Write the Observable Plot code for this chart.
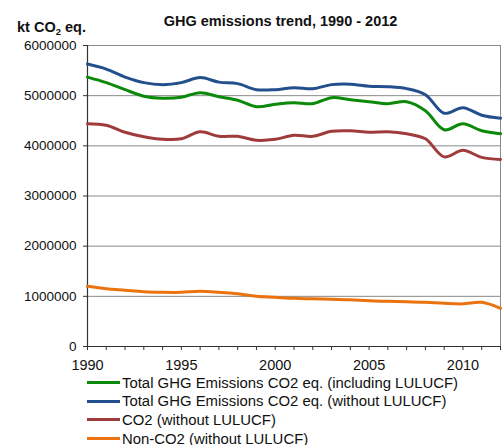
<!DOCTYPE html>
<html>
<head>
<meta charset="utf-8">
<script src="https://cdn.jsdelivr.net/npm/d3@7"></script>
<script src="https://cdn.jsdelivr.net/npm/@observablehq/plot@0.6"></script>
<style>
  html, body { margin: 0; padding: 0; background: #fff; }
  body { position: relative; width: 502px; height: 445px; overflow: hidden; font-family: "Liberation Sans", Arial, sans-serif; color: #111; }
  #head { position: relative; height: 30px; }
  #title { position: absolute; left: 0; width: 561px; top: 14px; text-align: center; font-weight: bold; font-size: 14.5px; line-height: 1; }
  #unit { position: absolute; left: 17px; top: 20px; font-weight: bold; font-size: 14.5px; line-height: 1; z-index: 2; }
  #unit sub { font-size: 9.5px; vertical-align: -3px; line-height: 0; }
  #legend { position: absolute; left: 0; top: 373.5px; }
  .row { display: flex; align-items: center; height: 18.6px; padding-left: 87px; font-size: 14.9px; line-height: 16px; }
  .sw { width: 33px; height: 3px; margin-right: 2px; }
  svg { display: block; }
</style>
</head>
<body>
<div id="head">
  <div id="title">GHG emissions trend, 1990 - 2012</div>
  <div id="unit">kt CO<sub>2</sub> eq.</div>
</div>
<div id="chart"></div>
<div id="legend"></div>
<script>
const years = [1990,1991,1992,1993,1994,1995,1996,1997,1998,1999,2000,2001,2002,2003,2004,2005,2006,2007,2008,2009,2010,2011,2012];
const totalInclLULUCF = [5370000,5260000,5120000,4990000,4950000,4970000,5060000,4980000,4910000,4780000,4830000,4860000,4840000,4960000,4920000,4880000,4840000,4880000,4700000,4320000,4440000,4300000,4240000];
const totalExclLULUCF = [5630000,5530000,5370000,5260000,5220000,5260000,5360000,5270000,5240000,5120000,5120000,5160000,5140000,5220000,5230000,5190000,5180000,5140000,5020000,4650000,4760000,4610000,4550000];
const co2ExclLULUCF = [4440000,4410000,4270000,4180000,4130000,4140000,4280000,4190000,4190000,4110000,4130000,4210000,4190000,4290000,4300000,4270000,4280000,4240000,4140000,3780000,3910000,3770000,3730000];
const nonCo2ExclLULUCF = [1200000,1150000,1120000,1090000,1080000,1080000,1100000,1080000,1050000,1000000,980000,960000,950000,940000,930000,910000,900000,890000,880000,860000,850000,880000,760000];
const seriesNames = ["Total GHG Emissions CO2 eq. (including LULUCF)","Total GHG Emissions CO2 eq. (without LULUCF)","CO2 (without LULUCF)","Non-CO2 (without LULUCF)"];
const seriesColors = ["#0a890a","#244f8d","#a03b3b","#ea730f"];
const yTicks = [0,1000000,2000000,3000000,4000000,5000000,6000000];

const seriesValues = [totalInclLULUCF, totalExclLULUCF, co2ExclLULUCF, nonCo2ExclLULUCF];
const data = [];
seriesNames.forEach((name, i) => years.forEach((y, j) => data.push({series: name, year: y, value: seriesValues[i][j]})));

const chart = Plot.plot({
  width: 502,
  height: 348,
  marginLeft: 87,
  marginRight: 2,
  marginTop: 15,
  marginBottom: 32,
  style: {fontFamily: "'Liberation Sans', Arial, sans-serif", color: "#111", background: "#fff"},
  x: {domain: [1990, 2012]},
  y: {domain: [0, 6000000]},
  color: {domain: seriesNames, range: seriesColors},
  marks: [
    Plot.gridY(yTicks, {stroke: "#8a8a8a", strokeOpacity: 1}),
    Plot.ruleX([2012], {stroke: "#8a8a8a"}),
    Plot.axisY(yTicks, {tickFormat: d3.format("d"), tickSize: 4, tickPadding: 7, fontSize: 13.5, label: null, stroke: "#333"}),
    Plot.axisX({ticks: years, tickFormat: d => d % 5 === 0 ? String(d) : "", tickSize: 4, tickPadding: 9, fontSize: 14.5, label: null, stroke: "#333"}),
    Plot.ruleX([1990], {stroke: "#333", strokeWidth: 1.2}),
    Plot.ruleY([0], {stroke: "#333", strokeWidth: 1.2}),
    Plot.line(data, {x: "year", y: "value", z: "series", stroke: "series", strokeWidth: 3, curve: "catmull-rom"})
  ]
});
document.getElementById("chart").appendChild(chart);

const legend = document.getElementById("legend");
seriesNames.forEach((name, i) => {
  const row = document.createElement("div");
  row.className = "row";
  const sw = document.createElement("div");
  sw.className = "sw";
  sw.style.background = seriesColors[i];
  const t = document.createElement("span");
  t.textContent = name;
  row.appendChild(sw);
  row.appendChild(t);
  legend.appendChild(row);
});
</script>
</body>
</html>
